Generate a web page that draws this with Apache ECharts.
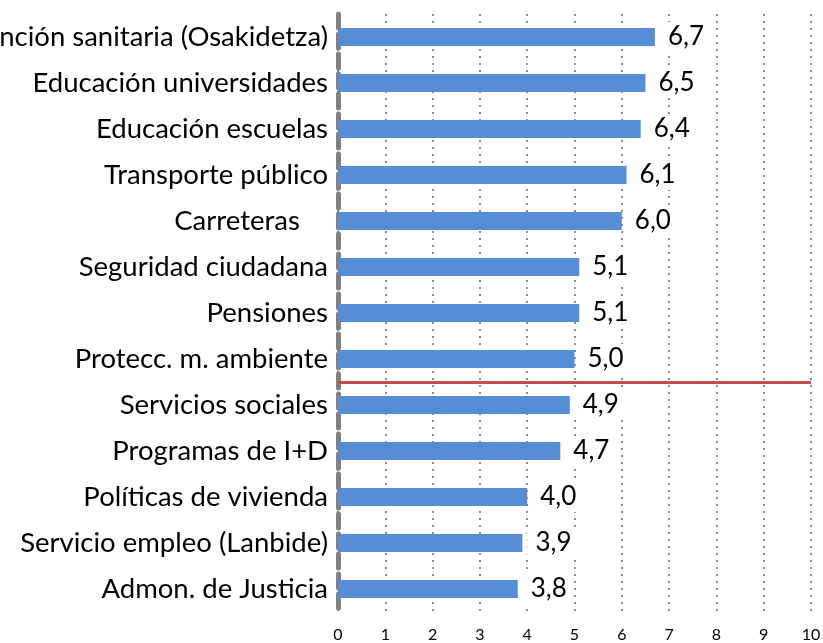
<!DOCTYPE html>
<html>
<head>
<meta charset="utf-8">
<script src="https://cdn.jsdelivr.net/npm/echarts@6/dist/echarts.min.js"></script>
<style>
  html, body { margin: 0; padding: 0; background: #fff; }
  #chart { width: 823px; height: 643px; }
</style>
</head>
<body>
<div id="chart"></div>
<script>
const categories = [
  'Atención sanitaria (Osakidetza)',
  'Educación universidades',
  'Educación escuelas',
  'Transporte público',
  'Carreteras    ',
  'Seguridad ciudadana',
  'Pensiones',
  'Protecc. m. ambiente',
  'Servicios sociales',
  'Programas de I+D',
  'Políticas de vivienda',
  'Servicio empleo (Lanbide)',
  'Admon. de Justicia'
]
const values = [6.7, 6.5, 6.4, 6.1, 6.0, 5.1, 5.1, 5.0, 4.9, 4.7, 4.0, 3.9, 3.8]
// red divider sits between "Protecc. m. ambiente" and "Servicios sociales"
const dividerAt = 7.5

const chart = echarts.init(document.getElementById('chart'))

chart.setOption({
  animation: false,
  textStyle: { fontFamily: 'Lato, "Open Sans", sans-serif' },
  grid: {
    left: 338, right: 12, top: 14, bottom: 31,
    containLabel: false,
    outerBoundsMode: 'none'
  },
  xAxis: {
    type: 'value',
    min: 0,
    max: 10,
    interval: 1,
    axisLine: { show: false },
    axisTick: { show: false },
    axisLabel: {
      color: '#000', fontSize: 16, margin: 15,
      alignMinLabel: 'center', alignMaxLabel: 'center'
    },
    splitLine: {
      show: true,
      lineStyle: { color: '#8c8c8c', width: 2, type: [2, 5] }
    }
  },
  yAxis: [
    {
      type: 'category',
      data: categories,
      inverse: true,
      axisTick: { show: false },
      axisLine: {
        show: true,
        lineStyle: { color: '#808080', width: 5, type: [14, 6] }
      },
      axisLabel: { color: '#000', fontSize: 27.5, margin: 10 }
    },
    {
      type: 'value',
      min: -0.5,
      max: 12.5,
      inverse: true,
      show: false
    }
  ],
  series: [
    {
      type: 'bar',
      data: values,
      barWidth: 18,
      itemStyle: { color: '#558ED5' },
      label: {
        show: true,
        position: 'right',
        distance: 4,
        color: '#000',
        fontSize: 26,
        backgroundColor: '#fff',
        padding: [2, 6, 2, 9],
        formatter: p => p.value.toFixed(1).replace('.', ',')
      }
    },
    {
      type: 'line',
      yAxisIndex: 1,
      data: [],
      markLine: {
        symbol: 'none',
        silent: true,
        label: { show: false },
        lineStyle: { color: '#C0504D', width: 3, type: 'solid' },
        data: [{ yAxis: dividerAt }]
      }
    }
  ]
})
</script>
</body>
</html>
